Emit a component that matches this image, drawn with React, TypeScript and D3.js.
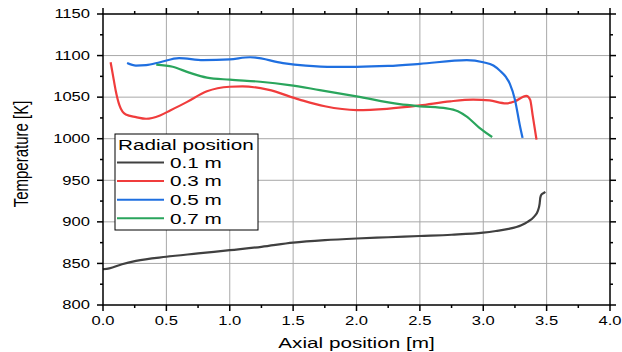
import * as d3 from 'd3';

// values: [axial position m, temperature K]
const radial01: [number, number][] = [
  [0.0, 843], [0.05, 844], [0.15, 849], [0.26, 853], [0.5, 858], [0.75, 862],
  [1.0, 866], [1.25, 870], [1.5, 875], [1.75, 878], [2.0, 880], [2.25, 881.5],
  [2.5, 883], [2.75, 884.5], [3.0, 887], [3.1, 889], [3.2, 891.5], [3.3, 896],
  [3.35, 900], [3.4, 906], [3.43, 913], [3.445, 922], [3.45, 929], [3.46, 933],
  [3.48, 935], [3.49, 936],
];
const radial03: [number, number][] = [
  [0.06, 1092], [0.08, 1075], [0.1, 1058], [0.13, 1040], [0.18, 1029], [0.26, 1026],
  [0.34, 1024], [0.45, 1028], [0.53, 1034], [0.66, 1044], [0.82, 1057], [1.0, 1062.5],
  [1.1, 1063], [1.3, 1059], [1.55, 1047], [1.75, 1039], [2.0, 1034.5], [2.24, 1036],
  [2.5, 1040], [2.74, 1045], [2.92, 1047], [3.05, 1046], [3.18, 1042.5], [3.25, 1045],
  [3.34, 1051.5], [3.37, 1047], [3.39, 1028], [3.42, 999],
];
const radial05: [number, number][] = [
  [0.19, 1091], [0.26, 1088], [0.34, 1088.5], [0.45, 1092], [0.6, 1097], [0.79, 1094.5],
  [1.0, 1095.5], [1.16, 1098], [1.42, 1091], [1.6, 1088], [1.82, 1086.5], [2.0, 1086.5],
  [2.25, 1087.5], [2.5, 1090], [2.87, 1094.5], [3.0, 1092], [3.08, 1088], [3.13, 1082],
  [3.18, 1074], [3.21, 1066], [3.25, 1047], [3.29, 1015], [3.31, 1001],
];
const radial07: [number, number][] = [
  [0.42, 1089], [0.55, 1086.5], [0.68, 1079.5], [0.82, 1073.5], [1.0, 1071], [1.24, 1068.5],
  [1.47, 1064.5], [1.71, 1058.5], [2.0, 1051], [2.34, 1041.5], [2.5, 1039], [2.71, 1036.5],
  [2.8, 1033], [2.87, 1026.5], [2.97, 1013], [3.07, 1002],
];

const seriesNames = ['0.1 m', '0.3 m', '0.5 m', '0.7 m'];
const seriesColors = ['#404040', '#f03c3c', '#1f6fe0', '#2aa55c'];
const seriesData = [radial01, radial03, radial05, radial07];

const xTickValues = [0, 0.5, 1.0, 1.5, 2.0, 2.5, 3.0, 3.5, 4.0];
const yTickValues = [800, 850, 900, 950, 1000, 1050, 1100, 1150];

const W = 622;
const H = 352;
const margin = { top: 14, right: 12, bottom: 47, left: 103 };
const FONT = 'Liberation Sans, Arial, sans-serif';
const SX = 1.38; // glyphs in the source are stretched sideways

const SText = ({ x, y, size, anchor = 'start', rotate = 0, children }: any) => (
  <text
    transform={`translate(${x},${y}) scale(${SX},1) rotate(${rotate})`}
    fontSize={size}
    fontFamily={FONT}
    textAnchor={anchor}
    fill="#000"
  >
    {children}
  </text>
);

export default function App() {
  const x = d3.scaleLinear().domain([0, 4]).range([margin.left, W - margin.right]);
  const y = d3.scaleLinear().domain([800, 1150]).range([H - margin.bottom, margin.top]);
  const [x0, x1] = x.range();
  const [y0, y1] = y.range();

  const line = d3
    .line<[number, number]>()
    .x((d) => x(d[0]))
    .y((d) => y(d[1]))
    .curve(d3.curveMonotoneX);

  const xMinor = d3.range(0.25, 4, 0.5);
  const yMinor = d3.range(825, 1150, 50);
  const fmt = d3.format('.1f');

  const lg = { x: 115, y: 134, w: 143, h: 96 };

  return (
    <svg width={W} height={H} style={{ position: 'fixed', left: 0, top: 0, background: '#fff' }}>
      {/* grid */}
      <g stroke="#a8a8a8" strokeWidth={1}>
        {xTickValues.slice(1, -1).map((t) => (
          <line key={'gx' + t} x1={x(t)} x2={x(t)} y1={y0} y2={y1} />
        ))}
        {yTickValues.slice(1, -1).map((t) => (
          <line key={'gy' + t} x1={x0} x2={x1} y1={y(t)} y2={y(t)} />
        ))}
      </g>

      {/* curves */}
      {seriesData.map((d, i) => (
        <path key={i} d={line(d) as string} fill="none" stroke={seriesColors[i]} strokeWidth={2.2} strokeLinejoin="round" />
      ))}

      {/* frame and ticks */}
      <g stroke="#000" strokeWidth={1.5}>
        <rect x={x0} y={y1} width={x1 - x0} height={y0 - y1} fill="none" />
        {xTickValues.map((t) => (
          <g key={'tx' + t}>
            <line x1={x(t)} x2={x(t)} y1={y0} y2={y0 + 6} />
            <line x1={x(t)} x2={x(t)} y1={y1} y2={y1 - 6} />
          </g>
        ))}
        {xMinor.map((t) => (
          <g key={'mx' + t}>
            <line x1={x(t)} x2={x(t)} y1={y0} y2={y0 + 3} />
            <line x1={x(t)} x2={x(t)} y1={y1} y2={y1 - 3} />
          </g>
        ))}
        {yTickValues.map((t) => (
          <g key={'ty' + t}>
            <line x1={x0} x2={x0 - 6} y1={y(t)} y2={y(t)} />
            <line x1={x1} x2={x1 + 6} y1={y(t)} y2={y(t)} />
          </g>
        ))}
        {yMinor.map((t) => (
          <g key={'my' + t}>
            <line x1={x0} x2={x0 - 3} y1={y(t)} y2={y(t)} />
            <line x1={x1} x2={x1 + 3} y1={y(t)} y2={y(t)} />
          </g>
        ))}
      </g>

      {/* tick labels */}
      {xTickValues.map((t) => (
        <SText key={'lx' + t} x={x(t)} y={y0 + 20} size={12} anchor="middle">
          {fmt(t)}
        </SText>
      ))}
      {yTickValues.map((t) => (
        <SText key={'ly' + t} x={x0 - 13} y={y(t) + 4.3} size={12} anchor="end">
          {t}
        </SText>
      ))}

      {/* axis titles */}
      <SText x={(x0 + x1) / 2} y={348} size={15} anchor="middle">
        Axial position [m]
      </SText>
      <SText x={28} y={154} size={15} anchor="middle" rotate={-90}>
        Temperature [K]
      </SText>

      {/* legend */}
      <rect x={lg.x} y={lg.y} width={lg.w} height={lg.h} fill="#fff" stroke="#000" strokeWidth={1} />
      <SText x={118} y={150} size={15}>
        Radial position
      </SText>
      {seriesNames.map((name, i) => {
        const ly = 162.5 + i * 18.6;
        return (
          <g key={name}>
            <line x1={117} x2={164} y1={ly} y2={ly} stroke={seriesColors[i]} strokeWidth={2} />
            <SText x={170} y={ly + 5.3} size={15}>
              {name}
            </SText>
          </g>
        );
      })}
    </svg>
  );
}
